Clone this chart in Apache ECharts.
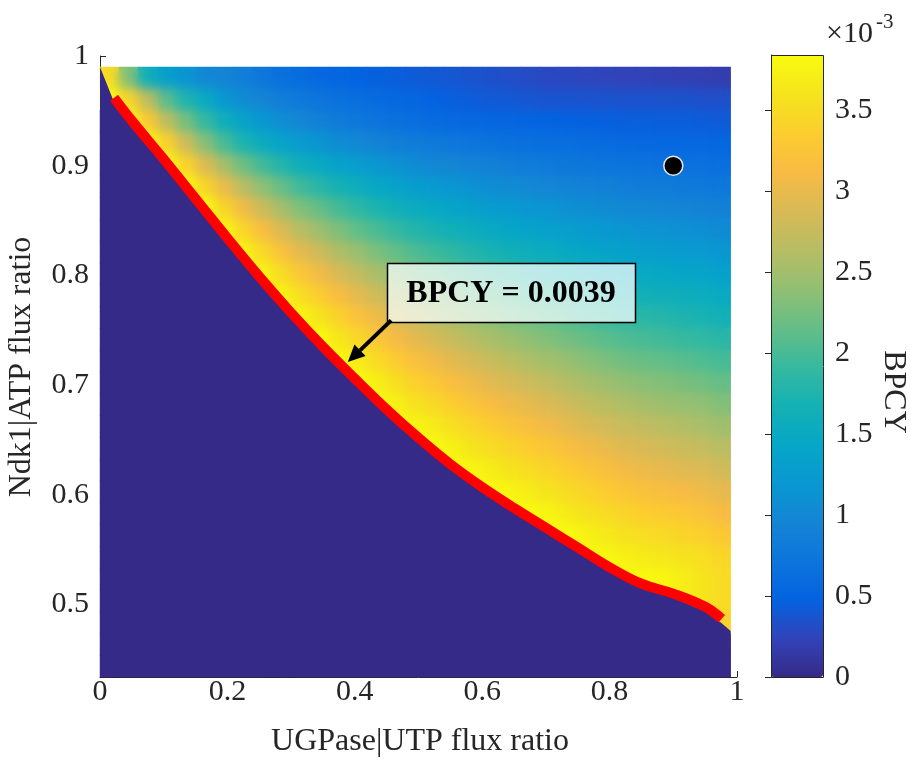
<!DOCTYPE html>
<html><head><meta charset="utf-8">
<script src="https://cdn.jsdelivr.net/npm/echarts@6/dist/echarts.min.js"></script>
<style>html,body{margin:0;padding:0;background:#fff}#c{width:911px;height:767px}</style>
</head><body><div id="c"></div>
<script>
// ---- data (BPCY in units of 1e-3) ----
const xCells = [0.015,0.045,0.075,0.105,0.135,0.165,0.195,0.225,0.255,0.285,0.315,0.345,0.375,0.405,0.435,0.465,0.495,0.525,0.555,0.585,0.615,0.645,0.675,0.705,0.735,0.765,0.795,0.825,0.855,0.885,0.915,0.945,0.975];
const yCells = [0.98,0.96,0.94,0.92,0.90,0.88,0.86,0.84,0.82,0.80,0.78,0.76,0.74,0.72,0.70,0.68,0.66,0.64,0.62,0.60,0.58,0.56,0.54,0.52,0.50,0.48,0.46,0.44];
const bpcyRows = [
[3.5,2.3,1.6,1.3,1.15,1.0,0.95,0.85,0.75,0.65,0.6,0.55,0.52,0.49,0.46,0.44,0.42,0.4,0.38,0.36,0.34,0.32,0.3,0.28,0.27,0.26,0.25,0.24,0.23,0.22,0.21,0.2,0.19],
[3.84,3.4,2.7,2.1,1.75,1.5,1.2,1.05,0.95,0.85,0.78,0.72,0.67,0.62,0.58,0.55,0.52,0.48,0.45,0.43,0.41,0.4,0.38,0.37,0.37,0.36,0.36,0.35,0.35,0.35,0.35,0.34,0.34],
[0,3.84,3.29,2.7,2.25,1.9,1.6,1.38,1.2,1.07,0.97,0.89,0.82,0.76,0.71,0.67,0.63,0.59,0.57,0.55,0.53,0.52,0.5,0.49,0.48,0.47,0.46,0.45,0.45,0.44,0.44,0.43,0.42],
[0,0,3.84,3.38,2.8,2.35,2.0,1.73,1.53,1.37,1.24,1.15,1.05,0.98,0.92,0.86,0.82,0.78,0.75,0.72,0.69,0.67,0.65,0.63,0.62,0.6,0.59,0.57,0.56,0.55,0.55,0.54,0.53],
[0,0,0,3.84,3.4,2.93,2.53,2.21,1.97,1.77,1.6,1.48,1.36,1.27,1.18,1.11,1.04,0.99,0.95,0.91,0.88,0.84,0.82,0.79,0.77,0.74,0.72,0.7,0.69,0.68,0.67,0.66,0.64],
[0,0,0,0,3.84,3.43,3.01,2.66,2.39,2.16,1.96,1.81,1.68,1.56,1.45,1.36,1.28,1.23,1.17,1.11,1.06,1.03,0.99,0.96,0.93,0.9,0.88,0.85,0.83,0.82,0.8,0.79,0.77],
[0,0,0,0,0,3.84,3.43,3.07,2.79,2.53,2.31,2.15,1.99,1.85,1.73,1.62,1.53,1.46,1.39,1.33,1.27,1.23,1.18,1.15,1.1,1.07,1.03,1.0,0.98,0.96,0.95,0.92,0.9],
[0,0,0,0,0,0,3.81,3.44,3.15,2.89,2.65,2.47,2.3,2.14,2.01,1.89,1.78,1.7,1.62,1.55,1.49,1.43,1.38,1.33,1.29,1.25,1.2,1.17,1.14,1.12,1.1,1.07,1.04],
[0,0,0,0,0,0,0,3.78,3.48,3.21,2.97,2.79,2.59,2.43,2.28,2.15,2.03,1.94,1.85,1.77,1.7,1.64,1.58,1.53,1.47,1.42,1.38,1.34,1.3,1.28,1.26,1.23,1.19],
[0,0,0,0,0,0,0,0,3.78,3.51,3.27,3.07,2.88,2.7,2.55,2.4,2.27,2.18,2.08,1.99,1.92,1.85,1.78,1.72,1.66,1.61,1.56,1.51,1.48,1.45,1.42,1.39,1.34],
[0,0,0,0,0,0,0,0,0,3.78,3.53,3.35,3.15,2.97,2.81,2.64,2.52,2.41,2.3,2.21,2.13,2.06,1.99,1.92,1.85,1.79,1.74,1.68,1.64,1.61,1.58,1.55,1.5],
[0,0,0,0,0,0,0,0,0,0,3.79,3.6,3.4,3.21,3.05,2.89,2.75,2.64,2.53,2.43,2.34,2.26,2.19,2.12,2.05,1.98,1.92,1.86,1.82,1.79,1.75,1.71,1.66],
[0,0,0,0,0,0,0,0,0,0,0,3.84,3.63,3.45,3.28,3.11,2.97,2.86,2.74,2.64,2.55,2.46,2.38,2.31,2.24,2.17,2.1,2.04,2.0,1.96,1.92,1.88,1.83],
[0,0,0,0,0,0,0,0,0,0,0,0,3.84,3.67,3.5,3.33,3.19,3.07,2.95,2.85,2.76,2.67,2.58,2.51,2.43,2.35,2.29,2.22,2.17,2.14,2.1,2.05,2.0],
[0,0,0,0,0,0,0,0,0,0,0,0,0,3.84,3.71,3.54,3.39,3.28,3.16,3.05,2.95,2.87,2.78,2.7,2.62,2.54,2.47,2.4,2.35,2.31,2.27,2.23,2.16],
[0,0,0,0,0,0,0,0,0,0,0,0,0,0,3.84,3.73,3.58,3.47,3.35,3.24,3.15,3.05,2.97,2.89,2.81,2.72,2.65,2.58,2.52,2.48,2.44,2.4,2.32],
[0,0,0,0,0,0,0,0,0,0,0,0,0,0,0,3.84,3.78,3.67,3.54,3.43,3.34,3.25,3.15,3.07,2.98,2.9,2.82,2.75,2.7,2.66,2.61,2.56,2.49],
[0,0,0,0,0,0,0,0,0,0,0,0,0,0,0,0,0,3.84,3.72,3.6,3.51,3.42,3.34,3.26,3.17,3.08,3.0,2.92,2.87,2.83,2.78,2.73,2.66],
[0,0,0,0,0,0,0,0,0,0,0,0,0,0,0,0,0,0,3.84,3.78,3.68,3.59,3.5,3.43,3.34,3.25,3.17,3.09,3.03,2.99,2.94,2.9,2.82],
[0,0,0,0,0,0,0,0,0,0,0,0,0,0,0,0,0,0,0,0,3.84,3.77,3.67,3.59,3.5,3.42,3.33,3.26,3.2,3.16,3.11,3.06,2.98],
[0,0,0,0,0,0,0,0,0,0,0,0,0,0,0,0,0,0,0,0,0,3.84,3.84,3.76,3.66,3.57,3.5,3.42,3.36,3.32,3.28,3.22,3.13],
[0,0,0,0,0,0,0,0,0,0,0,0,0,0,0,0,0,0,0,0,0,0,0,3.84,3.84,3.73,3.65,3.57,3.52,3.48,3.43,3.38,3.29],
[0,0,0,0,0,0,0,0,0,0,0,0,0,0,0,0,0,0,0,0,0,0,0,0,0,3.84,3.8,3.72,3.67,3.63,3.59,3.54,3.45],
[0,0,0,0,0,0,0,0,0,0,0,0,0,0,0,0,0,0,0,0,0,0,0,0,0,0,0,3.84,3.82,3.79,3.7,3.6,3.5],
[0,0,0,0,0,0,0,0,0,0,0,0,0,0,0,0,0,0,0,0,0,0,0,0,0,0,0,0,0,0,3.7,3.6,3.5],
[0,0,0,0,0,0,0,0,0,0,0,0,0,0,0,0,0,0,0,0,0,0,0,0,0,0,0,0,0,0,0,0,3.4],
[0,0,0,0,0,0,0,0,0,0,0,0,0,0,0,0,0,0,0,0,0,0,0,0,0,0,0,0,0,0,0,0,0],
[0,0,0,0,0,0,0,0,0,0,0,0,0,0,0,0,0,0,0,0,0,0,0,0,0,0,0,0,0,0,0,0,0]
];
// edge of the feasible region (BPCY = 0 below)
const edgeX = [0,0.022,0.05,0.10,0.15,0.20,0.25,0.30,0.35,0.40,0.45,0.50,0.55,0.60,0.65,0.70,0.75,0.80,0.85,0.90,0.95,0.976,0.99];
const edgeY = [0.99,0.958,0.937,0.902,0.866,0.830,0.795,0.762,0.731,0.702,0.674,0.648,0.624,0.603,0.584,0.566,0.548,0.530,0.515,0.506,0.494,0.483,0.476];
// red max-BPCY curve
const curveX = [0.022,0.05,0.10,0.15,0.20,0.25,0.30,0.35,0.40,0.45,0.50,0.55,0.60,0.65,0.70,0.75,0.80,0.85,0.90,0.95,0.976];
const curveY = [0.962,0.941,0.906,0.870,0.834,0.799,0.766,0.735,0.706,0.678,0.652,0.628,0.607,0.588,0.570,0.552,0.534,0.519,0.510,0.498,0.487];
const refPoint = [0.9, 0.9];
const cbarTicks = [0,0.5,1,1.5,2,2.5,3,3.5];
const cbarMax = 3.84;
const note = { text: 'BPCY = 0.0039', box: [0.4505, 0.8113, 0.8399, 0.7575], from: [0.457, 0.759], to: [0.389, 0.721] };

const parula = ['#352a87','#3243ba','#0363e1','#0d75dc','#1485d4','#0998d1','#06a7c6','#15b1b4','#38b99e','#65be86','#92bf73','#b7bd64','#d9ba56','#f8bb44','#fcce2e','#f5e41d','#f9fb0e'];
const FONT = "'Liberation Serif','Times New Roman',serif";
const TXT = '#262626';

const heatData = [];
bpcyRows.forEach((row, r) => row.forEach((v, c) => heatData.push([c, yCells.length - 1 - r, v])));
const heatDataFeasible = heatData.filter(d => d[2] > 0);
const edgeData = edgeX.map((x, i) => [x, edgeY[i]]);
const curveData = curveX.map((x, i) => [x, curveY[i]]);

const chart = echarts.init(document.getElementById('c'));
const axisLbl = { fontFamily: FONT, fontSize: 30, color: TXT };
chart.setOption({
  animation: false,
  grid: [
    { left: 100, top: 56, width: 637, height: 621 },
    { left: 100, top: 67, width: 630.6, height: 610 },
    { left: 771, top: 55, width: 52, height: 622 }
  ],
  xAxis: [
    { gridIndex: 0, type: 'value', min: 0, max: 1, interval: 0.2,
      axisLine: { show: true, lineStyle: { color: TXT, width: 1 } },
      axisTick: { show: true, inside: true, length: 6, lineStyle: { color: TXT } },
      splitLine: { show: false },
      axisLabel: Object.assign({ margin: 0 }, axisLbl) },
    { gridIndex: 1, type: 'category', data: xCells.map(String), show: false },
    { gridIndex: 2, type: 'value', min: 0, max: 1, show: false }
  ],
  yAxis: [
    { gridIndex: 0, type: 'value', min: 0.434, max: 1, minInterval: 0.1, maxInterval: 0.1,
      axisLine: { show: true, lineStyle: { color: TXT, width: 1 } },
      axisTick: { show: true, inside: true, length: 6, lineStyle: { color: TXT } },
      splitLine: { show: false },
      axisLabel: Object.assign({ margin: 11, showMinLabel: false,
        formatter: v => (v < 0.45 ? '' : String(+v.toFixed(1))) }, axisLbl) },
    { gridIndex: 1, type: 'category', data: yCells.slice().reverse().map(String), show: false },
    { gridIndex: 2, type: 'value', min: 0, max: cbarMax, interval: 0.5, position: 'right', z: 10,
      axisLine: { show: true, lineStyle: { color: TXT } },
      axisTick: { show: true, inside: true, length: 6, lineStyle: { color: TXT } },
      splitLine: { show: false },
      axisLabel: Object.assign({ margin: 12, showMaxLabel: false,
        formatter: v => (cbarTicks.indexOf(+v.toFixed(2)) >= 0 ? String(+v.toFixed(2)) : '') }, axisLbl) }
  ],
  visualMap: {
    type: 'continuous', seriesIndex: [0, 1], min: 0, max: cbarMax, calculable: false, hoverLink: false,
    orient: 'vertical', left: 771, top: 55, itemWidth: 52, itemHeight: 622, padding: 0,
    text: null, inRange: { color: parula }
  },
  series: [
    { type: 'heatmap', xAxisIndex: 1, yAxisIndex: 1, data: heatData, z: 1,
      itemStyle: { borderWidth: 0 }, emphasis: { disabled: true } },
    { type: 'heatmap', xAxisIndex: 1, yAxisIndex: 1, data: heatDataFeasible, zlevel: 1, z: 1,
      itemStyle: { borderWidth: 0 }, emphasis: { disabled: true } },
    { type: 'line', xAxisIndex: 0, yAxisIndex: 0, data: edgeData, zlevel: 2, z: 2, symbol: 'none', clip: true,
      lineStyle: { width: 0, opacity: 0 }, areaStyle: { color: parula[0], opacity: 1 }, silent: true },
    { type: 'line', xAxisIndex: 0, yAxisIndex: 0, data: curveData, zlevel: 2, z: 3, symbol: 'none', smooth: 0.4,
      lineStyle: { color: '#ff0000', width: 10, cap: 'butt' }, silent: true },
    { type: 'scatter', xAxisIndex: 0, yAxisIndex: 0, data: [refPoint], zlevel: 2, z: 4, symbolSize: 19,
      itemStyle: { color: '#000000', borderColor: '#e6e6e6', borderWidth: 1.5, opacity: 1 }, silent: true }
  ]
});

const px = p => chart.convertToPixel({ xAxisIndex: 0, yAxisIndex: 0 }, p);
const b0 = px([note.box[0], note.box[1]]), b1 = px([note.box[2], note.box[3]]);
const s = px(note.from), t = px(note.to);
const dx = t[0] - s[0], dy = t[1] - s[1], L = Math.hypot(dx, dy), ux = dx / L, uy = dy / L;
const hl = 17, hw = 8;
const bx = t[0] - hl * ux, by = t[1] - hl * uy;
const txt = (text, x, y, size, extra) => Object.assign({
  type: 'text', x: x, y: y, zlevel: 2, z: 100,
  style: { text: text, x: 0, y: 0, fill: TXT, fontFamily: FONT, fontSize: size,
    textAlign: 'center', textVerticalAlign: 'middle', align: 'center', verticalAlign: 'middle' }
}, extra || {});

chart.setOption({
  graphic: [
    { type: 'rect', zlevel: 2, z: 100, shape: { x: Math.round(b0[0]) + 0.5, y: Math.round(b0[1]) + 0.5, width: Math.round(b1[0] - b0[0]), height: Math.round(b1[1] - b0[1]) },
      style: { fill: 'rgba(250,255,255,0.72)', stroke: '#000', lineWidth: 1.5 } },
    { type: 'text', zlevel: 2, z: 101, x: (b0[0] + b1[0]) / 2, y: (b0[1] + b1[1]) / 2 + 1,
      style: { text: note.text, x: 0, y: 0, fill: '#000', fontFamily: FONT, fontSize: 32, fontWeight: 'bold',
        textAlign: 'center', textVerticalAlign: 'middle', align: 'center', verticalAlign: 'middle' } },
    { type: 'line', zlevel: 2, z: 101, shape: { x1: s[0], y1: s[1], x2: bx, y2: by }, style: { stroke: '#000', lineWidth: 4 } },
    { type: 'polygon', zlevel: 2, z: 101, shape: { points: [[t[0], t[1]], [bx - hw * uy, by + hw * ux], [bx + hw * uy, by - hw * ux]] }, style: { fill: '#000' } },
    { type: 'rect', zlevel: 2, z: 100, shape: { x: 771.5, y: 55.5, width: 52, height: 622 }, style: { fill: 'none', stroke: TXT, lineWidth: 1 } },
    txt('UGPase|UTP flux ratio', 420, 742, 32),
    txt('Ndk1|ATP flux ratio', 22, 367, 32, { rotation: Math.PI / 2 }),
    txt('BPCY', 893, 392, 32, { rotation: -Math.PI / 2 }),
    { type: 'text', zlevel: 2, z: 100, x: 826, y: 34, style: { text: '×10', x: 0, y: 0, fill: TXT, fontFamily: FONT, fontSize: 30,
        textAlign: 'left', textVerticalAlign: 'middle', align: 'left', verticalAlign: 'middle' } },
    { type: 'text', zlevel: 2, z: 100, x: 876, y: 22, style: { text: '-3', x: 0, y: 0, fill: TXT, fontFamily: FONT, fontSize: 21,
        textAlign: 'left', textVerticalAlign: 'middle', align: 'left', verticalAlign: 'middle' } }
  ]
});

// interpolated shading look: soften the upper heatmap layer, clipped to the image area
function shadeLayer() {
  document.querySelectorAll('#c canvas').forEach(cv => {
    if (cv.getAttribute('data-zr-dom-id') === 'zr_1') {
      cv.style.filter = 'blur(6px)';
      cv.style.clipPath = 'inset(67px 180px 90px 100px)';
    }
  });
}
shadeLayer();
chart.on('finished', shadeLayer);
setTimeout(shadeLayer, 0);
</script></body></html>
